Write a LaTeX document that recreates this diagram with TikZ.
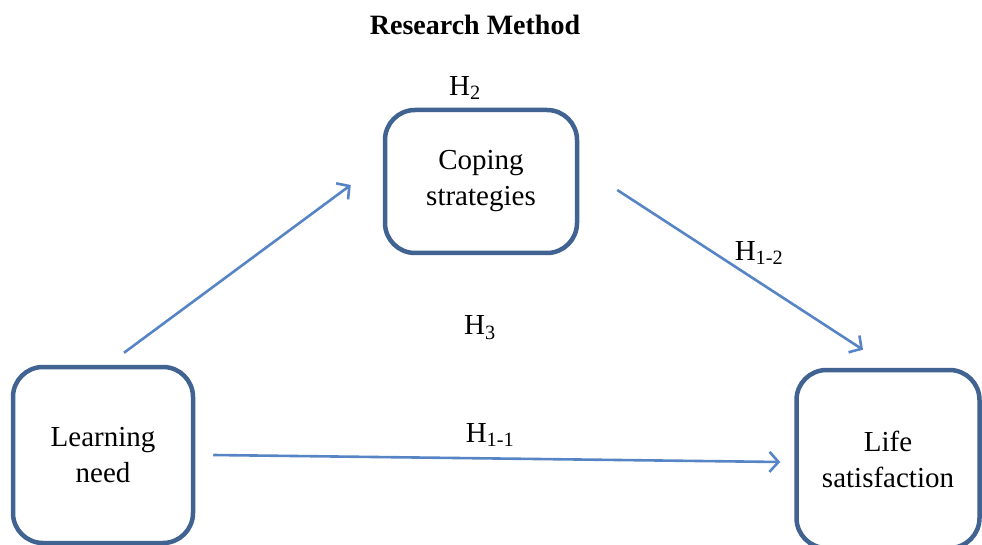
\documentclass[tikz,border=0pt]{standalone}
\usepackage{fontspec}
\setmainfont{Liberation Serif}
\usetikzlibrary{arrows.meta, positioning}
\definecolor{boxblue}{RGB}{64,99,145}
\definecolor{arrblue}{RGB}{86,132,196}

\begin{document}
\begin{tikzpicture} [x=1pt, y=-1pt,
    var/.style = {draw=boxblue, line width=4.5pt, rounded corners=30pt, align=center,
                  font=\fontsize{29}{36}\selectfont},
    hyp/.style = {font=\fontsize{29}{34}\selectfont},
    arr/.style = {draw=arrblue, line width=2.6pt, -{Straight Barb[length=9pt, width=20pt]}}]
    \useasboundingbox (0,0) rectangle (982,545);
    \node (title) at (475,25) {\fontsize{28}{34}\selectfont\bfseries Research Method};
    \node (learn) [var, minimum width=180pt, minimum height=176pt] at (103,455) {Learning\\need};
    \node (cope) [var, minimum width=192pt, minimum height=143pt] at (481,181.5) {Coping\\strategies};
    \node (life) [var, minimum width=183pt, minimum height=178pt] at (888,459) {Life\\satisfaction};
    %\node [hyp] {H};
    \node (h2) [hyp] at (465,88) {H\textsubscript{2}};
    \node (h12) [hyp] at (759,253) {H\textsubscript{1-2}};
    \node (h3) [hyp] at (480,328) {H\textsubscript{3}};
    \node (h11) [hyp] at (490,435) {H\textsubscript{1-1}};
    \draw [arr] ([xshift=21pt, yshift=12pt]learn.north) -- ([xshift=-32pt, yshift=-3.5pt]cope.west);
    \draw [arr] ([xshift=38pt, yshift=-8.5pt]cope.east) -- ([xshift=-25pt, yshift=18pt]life.north);
    \draw [arr] ([xshift=18pt]learn.east) -- ([xshift=-14pt, yshift=-3pt]life.west);

\end{tikzpicture}
\end{document}
